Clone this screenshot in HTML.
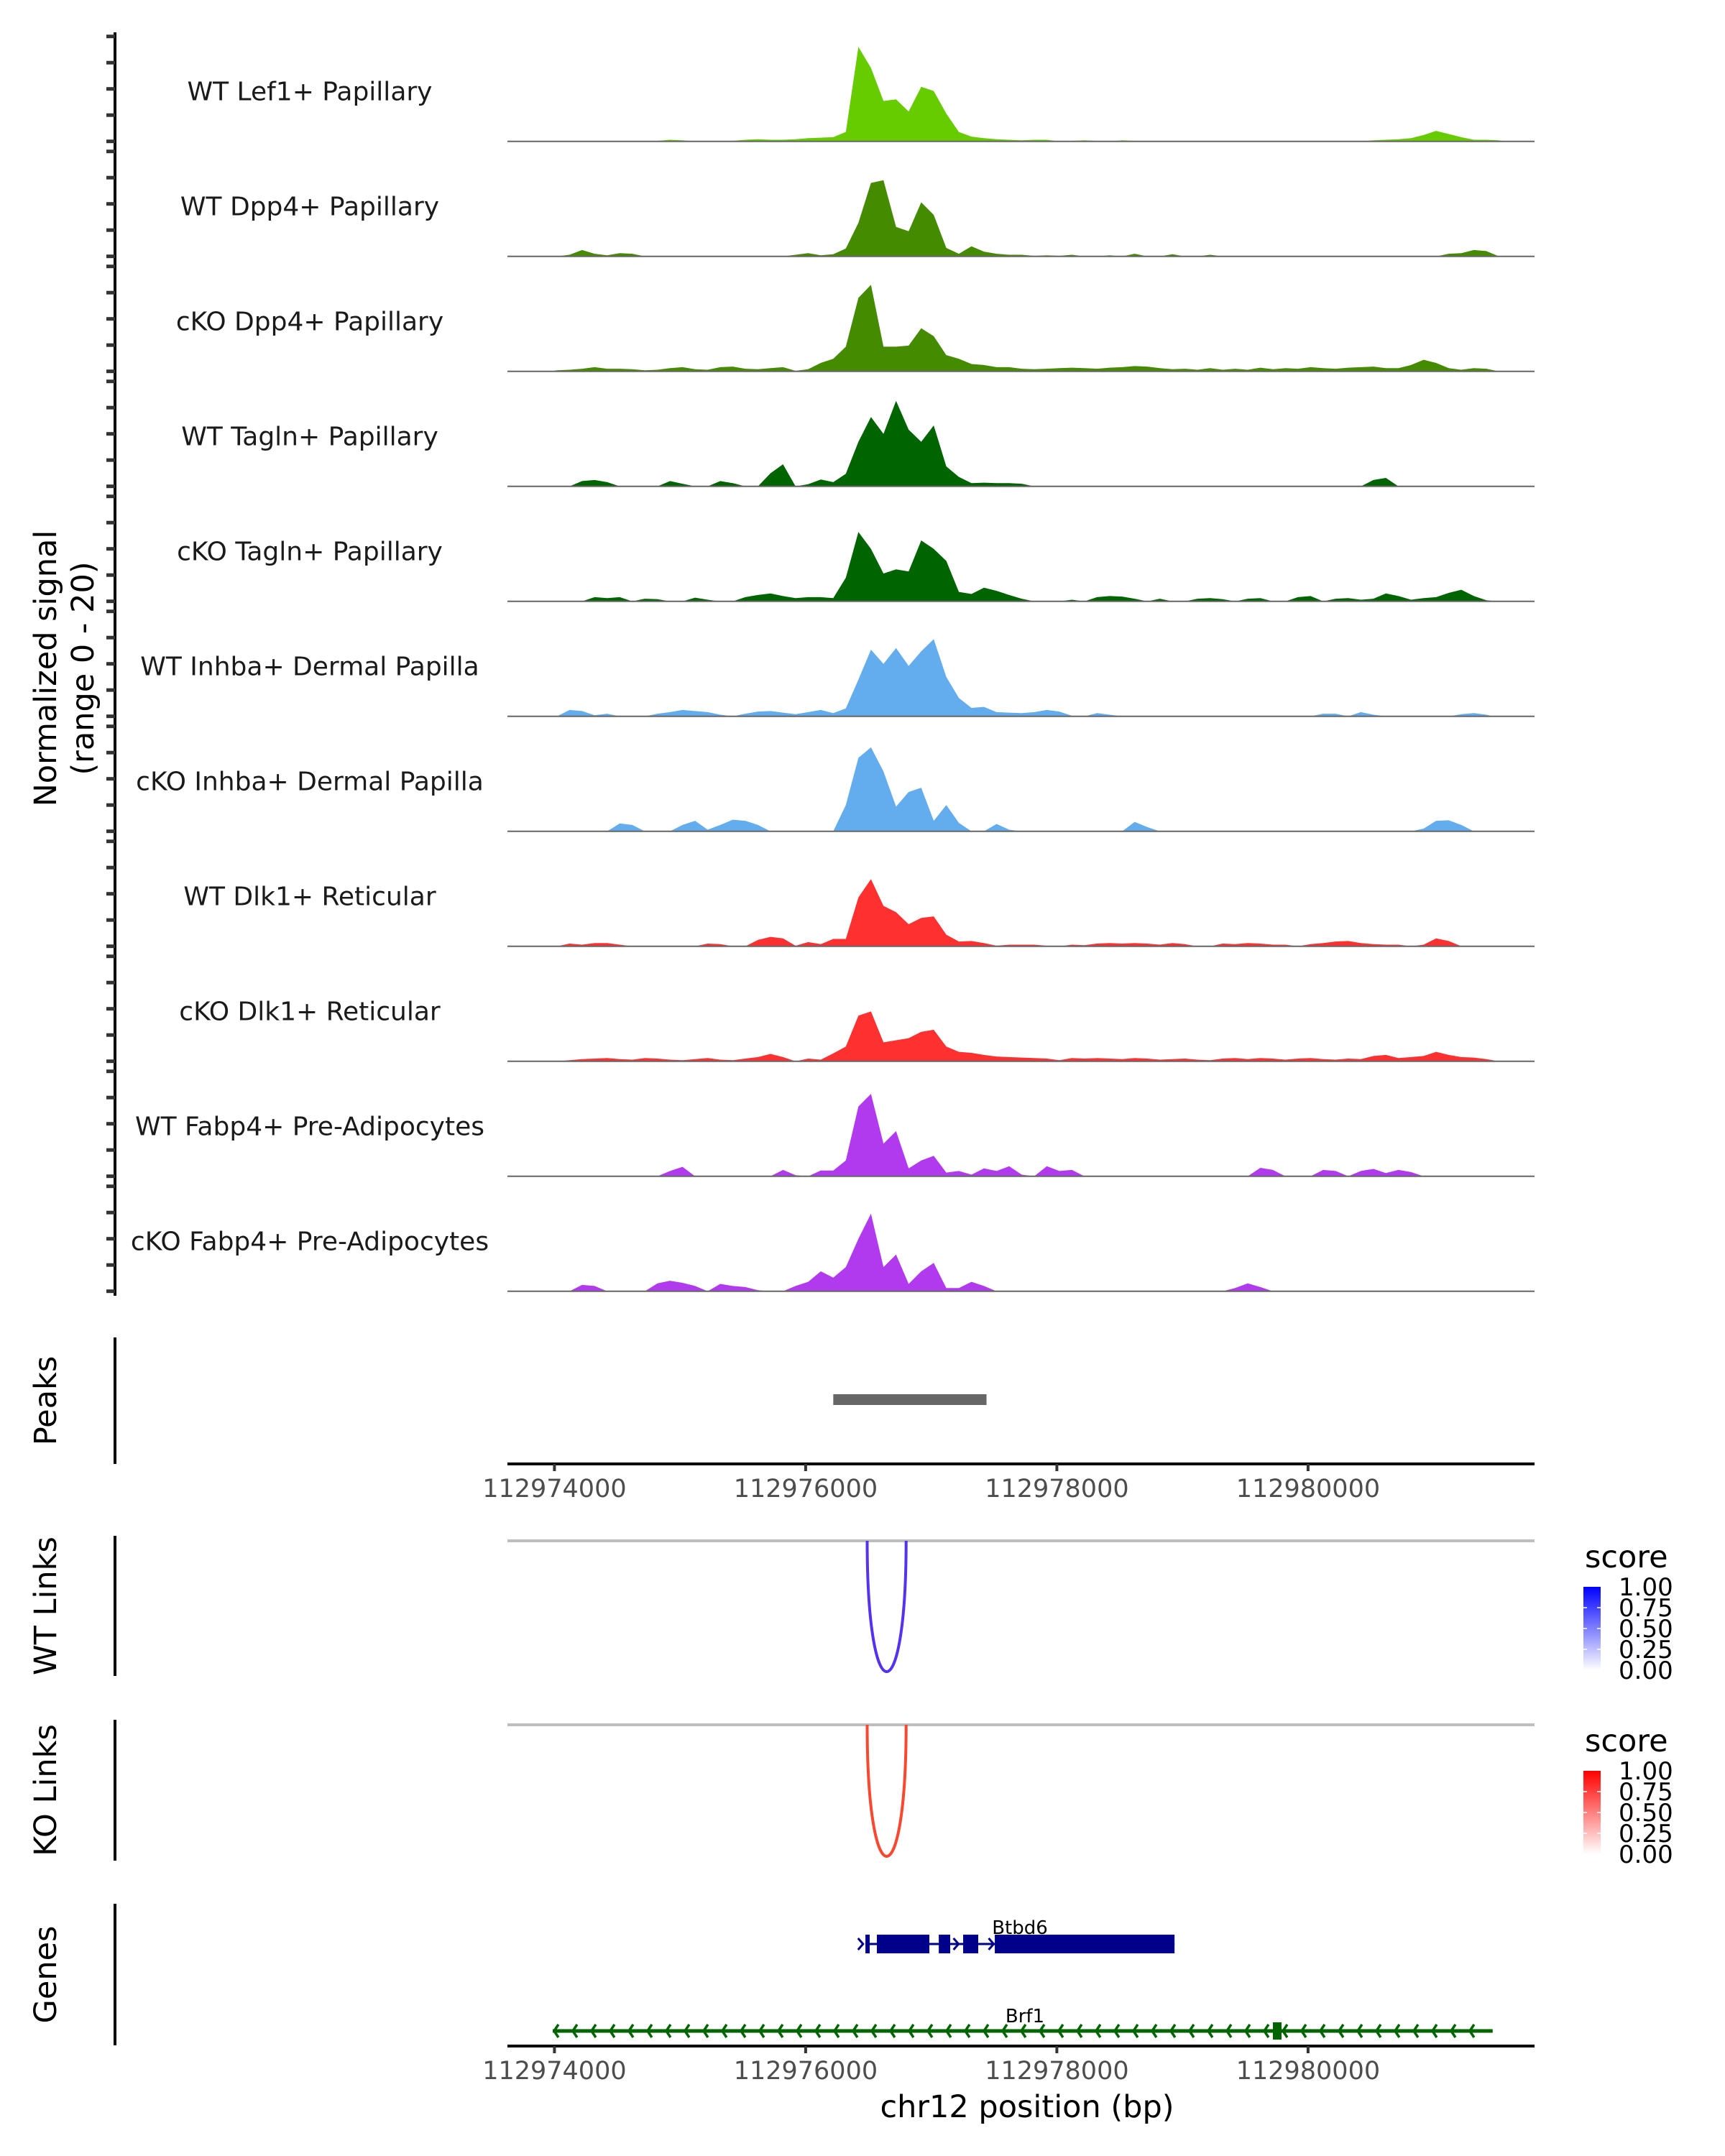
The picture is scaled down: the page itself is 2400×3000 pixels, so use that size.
<!DOCTYPE html>
<html><head><meta charset="utf-8"><style>
html,body{margin:0;padding:0;background:#fff}
svg{display:block}
text{font-family:"DejaVu Sans","Liberation Sans",sans-serif}
</style></head><body>
<svg id="chart" xmlns="http://www.w3.org/2000/svg" width="2400" height="3000" viewBox="0 0 2400 3000">
<rect width="2400" height="3000" fill="#fff"/>
<g id="tracks"></g>
<g id="lower"></g>
</svg>
<script>
// ---- data ----
const binStart = 112973970;
const binSize = 100;
const trackNames = ["WT Lef1+ Papillary","WT Dpp4+ Papillary","cKO Dpp4+ Papillary","WT Tagln+ Papillary","cKO Tagln+ Papillary","WT Inhba+ Dermal Papilla","cKO Inhba+ Dermal Papilla","WT Dlk1+ Reticular","cKO Dlk1+ Reticular","WT Fabp4+ Pre-Adipocytes","cKO Fabp4+ Pre-Adipocytes"];
const trackColors = ["#66CC00","#458B00","#458B00","#006400","#006400","#63ACEE","#63ACEE","#FF3030","#FF3030","#B23AEE","#B23AEE"];
const wtLef1 = [0,0,0,0,0,0,0,0,0.1,0.3,0.2,0,0,0,0.1,0.3,0.4,0.3,0.3,0.4,0.6,0.7,0.8,1.8,18,14,7.7,8,5.7,10.4,9.6,5.3,1.8,0.9,0.6,0.4,0.3,0.2,0.3,0.3,0,0.1,0.2,0.1,0,0.2,0.1,0,0.1,0.1,0,0.1,0,0,0.1,0,0,0.1,0,0,0.1,0,0.1,0.1,0,0.2,0.3,0.4,0.6,1.2,2,1.4,0.8,0.3,0.3,0.2];
const wtDpp4 = [0,0.3,1.2,0.5,0.2,0.6,0.5,0,0,0,0,0,0,0,0,0,0,0,0,0.3,0.6,0.2,0.4,1.5,6.4,14,14.5,5.6,4.8,10.3,7.9,1.6,0.5,1.9,0.9,0.5,0.3,0.3,0.1,0.2,0.1,0.3,0,0,0.2,0,0.5,0,0,0.4,0,0,0.3,0,0,0,0,0,0,0,0,0,0,0,0,0,0,0,0,0,0,0.5,0.6,1.2,1.0,0];
const koDpp4 = [0.2,0.3,0.5,0.8,0.5,0.5,0.4,0.2,0.3,0.6,0.8,0.4,0.3,0.8,0.9,0.5,0.4,0.6,0.8,0.1,0.4,1.6,2.4,4.7,14,16.5,4.7,4.7,4.9,8.2,6.7,3.1,2.4,1.4,1.2,0.8,0.8,0.5,0.4,0.5,0.6,0.7,0.6,0.5,0.7,0.8,1.0,0.9,0.6,0.4,0.5,0.3,0.6,0.3,0.5,0.3,0.7,0.4,0.6,0.5,0.8,0.6,0.5,0.7,0.8,0.9,0.6,0.6,1.2,2.2,1.6,0.6,0.3,0.6,0.5,0];
const wtTagln = [0,0,1.0,1.2,0.8,0,0,0,0,1.0,0.5,0,0,1.0,0.6,0,0,2.5,4.2,0,0.4,1.3,0.8,2.4,8.5,13.2,10,16.3,10.8,8.5,11.6,3.8,1.8,0.6,0.7,0.6,0.6,0.5,0,0,0,0,0,0,0,0,0,0,0,0,0,0,0,0,0,0,0,0,0,0,0,0,0,0,0,1.2,1.6,0,0,0,0,0,0,0,0,0];
const koTagln = [0,0,0,0.8,0.6,0.8,0,0.5,0.4,0,0,0.7,0.3,0,0,0.8,1.2,1.5,1.0,0.6,0.8,0.8,0.6,4.5,13.2,10,5.3,6.1,5.7,11.6,10,7.7,1.8,1.4,2.6,2,1.2,0.5,0,0,0,0.3,0,0.8,1,0.9,0.5,0,0.5,0,0,0.5,0.6,0.4,0,0.5,0.6,0,0,0.8,1.0,0,0.5,0.6,0.3,0.5,1.5,1.0,0.3,0.6,0.8,1.6,2.2,1.0,0.2,0];
const wtInhba = [0,1.2,1.0,0.2,0.5,0,0,0,0.5,0.8,1.2,1.0,0.8,0.3,0,0.5,0.9,1.0,0.7,0.4,0.8,1.2,0.6,1.5,7,12.7,10,13,9.6,12.4,14.7,7.5,3.5,1.6,1.8,0.8,0.7,0.6,0.8,1.2,0.9,0.1,0,0.6,0.3,0,0,0,0,0,0,0,0,0,0,0,0,0,0,0,0,0.5,0.5,0,0.8,0.3,0,0,0,0,0,0,0.4,0.6,0.3];
const koInhba = [0,0,0,0,0,1.5,1.2,0,0,0,1.2,2,0.3,1.2,2.2,2.0,1.2,0,0,0,0,0,0,5,14,16,11.4,4.7,7.5,8.3,2,5,1.6,0,0,1.4,0.3,0,0,0,0,0,0,0,0,0,1.8,0.8,0,0,0,0,0,0,0,0,0,0,0,0,0,0,0,0,0,0,0,0,0,0.5,2.0,2.1,1.2,0,0,0];
const wtDlk1 = [0,0.5,0.3,0.6,0.6,0.3,0,0,0,0,0,0,0.5,0.4,0,0,1.2,1.8,1.5,0.1,0.8,0.4,1.4,1.4,9.3,12.8,7.7,6.5,4.2,5.4,5.7,2.2,0.9,1.0,0.6,0.1,0.3,0.3,0.3,0.1,0,0.3,0.2,0.5,0.6,0.5,0.6,0.5,0.3,0.6,0.4,0,0,0.5,0.4,0.6,0.5,0.3,0.3,0,0.4,0.6,0.9,1.0,0.6,0.4,0.3,0.3,0,0.3,1.5,1.0,0,0,0,0];
const koDlk1 = [0,0.2,0.4,0.5,0.6,0.4,0.3,0.6,0.5,0.3,0.2,0.4,0.6,0.3,0.2,0.5,0.8,1.4,0.8,0,0.5,0.3,1.5,2.8,8.7,9.5,3.6,4,4.4,5.6,6,2.8,1.8,1.6,1.2,0.9,0.8,0.7,0.6,0.5,0.2,0.6,0.5,0.6,0.5,0.4,0.6,0.5,0.3,0.4,0.5,0.3,0.2,0.5,0.6,0.4,0.6,0.5,0.3,0.5,0.6,0.4,0.3,0.5,0.4,1.0,1.2,0.6,0.8,1.0,1.8,1.2,0.8,0.7,0.4,0];
const wtFabp4 = [0,0,0,0,0,0,0,0,0,1.0,1.8,0,0,0,0,0,0,0,1.2,0.2,0,1.1,1.1,3,13.3,15.7,6.2,8.6,1.5,3,3.9,0.7,1,0.3,1.5,1,1.9,0.3,0,1.9,1,1.2,0,0,0,0,0,0,0,0,0,0,0,0,0,0,1.6,1.2,0,0,0,1.2,1.0,0,1.0,1.4,0.6,1.2,0.8,0,0,0,0,0,0,0];
const koFabp4 = [0,0,1.2,1.0,0,0,0,0,1.5,2.0,1.6,1.0,0,1.4,1.0,0.8,0.2,0,0,1,1.8,3.8,2.6,4.6,10,14.8,4.6,7,1.4,3.8,5.4,0.6,0.6,1.8,1,0,0,0,0,0,0,0,0,0,0,0,0,0,0,0,0,0,0,0,0.6,1.5,0.8,0,0,0,0,0,0,0,0,0,0,0,0,0,0,0,0,0,0,0];
const trackData = [wtLef1,wtDpp4,koDpp4,wtTagln,koTagln,wtInhba,koInhba,wtDlk1,koDlk1,wtFabp4,koFabp4];
const xTicks = [112974000,112976000,112978000,112980000];
const xTickLabels = ["112974000","112976000","112978000","112980000"];
const peakStarts = [112976220];
const peakEnds = [112977440];
const wtLinkStart = [112976490];
const wtLinkEnd = [112976800];
const wtLinkScore = [0.75];
const koLinkStart = [112976490];
const koLinkEnd = [112976800];
const koLinkScore = [0.75];
const legendTicks = [1.00,0.75,0.50,0.25,0.00];
const legendLabels = ["1.00","0.75","0.50","0.25","0.00"];
const btbd6Exons = [[112976476,112976510],[112976567,112976985],[112977060,112977151],[112977254,112977374],[112977506,112978937]];
const btbd6Range = [112976476,112978937];
const brf1Range = [112973986,112981470];
const brf1Exons = [[112979720,112979789]];

// ---- scales ----
const X0 = 771.4, PX = 349.5/2000, G0 = 112974000;
function xs(g){ return X0 + (g - G0) * PX; }
const B1 = 196.7, TSP = 160, TH = 146;
function ys(v, k){ return B1 + TSP*k - v/20*TH; }
const PL = 706, PR = 2135;
const NS = "http://www.w3.org/2000/svg";
function mk(tag, attrs, parent, txt){
  const e = document.createElementNS(NS, tag);
  for (const a in attrs) e.setAttribute(a, attrs[a]);
  if (txt !== undefined) e.textContent = txt;
  parent.appendChild(e); return e;
}
const T = document.getElementById('tracks');
const L = document.getElementById('lower');

let ax = mk('line',{x1:160,y1:45,x2:160,y2:1803,stroke:'#000','stroke-width':4},T);


let yt = mk('text',{x:0,y:0,'font-size':43,'text-anchor':'middle',fill:'#000',transform:'translate(78,930) rotate(-90)'},T,'Normalized signal');


let yt2 = mk('text',{x:0,y:0,'font-size':43,'text-anchor':'middle',fill:'#000',transform:'translate(130,930) rotate(-90)'},T,'(range 0 - 20)');



for (let k=0;k<trackData.length;k++){
  const d = trackData[k];
  const g = mk('g',{},T);
  
  
  for (let j=0;j<5;j++){
    const tk = mk('line',{x1:148,x2:160,y1:ys(j*5,k),y2:ys(j*5,k),stroke:'#333','stroke-width':5},g);
    
    
  }
  let pts = [];
  pts.push(xs(binStart).toFixed(1)+','+ys(0,k).toFixed(1));
  for (let i=0;i<d.length;i++){
    const gx = binStart + binSize*i + binSize/2;
    pts.push(xs(gx).toFixed(1)+','+ys(d[i],k).toFixed(1));
  }
  pts.push(xs(binStart+binSize*d.length).toFixed(1)+','+ys(0,k).toFixed(1));
  const area = mk('polygon',{points:pts.join(' '),fill:trackColors[k]},g);
  
  
  const bl = mk('line',{x1:PL,x2:PR,y1:ys(0,k),y2:ys(0,k),stroke:'#666','stroke-width':2},g);
  
  
  const lb = mk('text',{x:431,y:ys(0,k)-57,'font-size':36,'text-anchor':'middle',fill:'#1a1a1a'},g,trackNames[k]);
  
  
}

function xAxis(y, name){
  const g = mk('g',{},L);
  
  
  mk('line',{x1:PL,x2:PR,y1:y,y2:y,stroke:'#000','stroke-width':4},g);
  for (let i=0;i<xTicks.length;i++){
    const x = xs(xTicks[i]);
    const t = mk('line',{x1:x,x2:x,y1:y,y2:y+10,stroke:'#333','stroke-width':4},g);
    
    
    const tl = mk('text',{x:x,y:y+46,'font-size':35,'text-anchor':'middle',fill:'#4D4D4D'},g,xTickLabels[i]);
    
    
  }
}
function sideLabel(txt, y1, y2, name){
  const ln = mk('line',{x1:160,x2:160,y1:y1,y2:y2,stroke:'#000','stroke-width':4},L);
  
  
  const t = mk('text',{x:0,y:0,'font-size':43,'text-anchor':'middle',fill:'#000',transform:'translate(78,'+((y1+y2)/2)+') rotate(-90)'},L,txt);
  
  
}

sideLabel('Peaks',1861,2037,'peaks');
for (let i=0;i<peakStarts.length;i++){
  const r = mk('rect',{x:xs(peakStarts[i]),y:1940,width:xs(peakEnds[i])-xs(peakStarts[i]),height:15,fill:'#666'},L);
  
  
}
xAxis(2037,'peaks-x-axis');

function mix(c, s){ return 'rgb('+Math.round(255+(c[0]-255)*s)+','+Math.round(255+(c[1]-255)*s)+','+Math.round(255+(c[2]-255)*s)+')'; }
function linkPanel(label, y0, ymin, starts, ends, scores, col, lineCol, name, legY, gid){
  sideLabel(label, y0-7, ymin+6, name);
  const gl = mk('line',{x1:PL,x2:PR,y1:y0,y2:y0,stroke:'#BEBEBE','stroke-width':4},L);
  
  
  for (let i=0;i<starts.length;i++){
    const a = xs(starts[i]), b = xs(ends[i]), d = (ymin-y0)/0.75;
    const p = mk('path',{d:'M'+a+','+y0+' C'+a+','+(y0+d)+' '+b+','+(y0+d)+' '+b+','+y0,fill:'none',stroke:lineCol,'stroke-width':4},L);
    
    
  }
  const lg = mk('g',{},L);
  
  
  const defs = mk('defs',{},lg);
  const gr = mk('linearGradient',{id:gid,x1:0,y1:1,x2:0,y2:0},defs);
  mk('stop',{offset:0,'stop-color':'#fff'},gr);
  mk('stop',{offset:1,'stop-color':mix(col,1)},gr);
  mk('text',{x:2205,y:legY+14,'font-size':43,fill:'#000'},lg,'score');
  const top = legY+41, bot = legY+157;
  mk('rect',{x:2203,y:top,width:24,height:bot-top,fill:'url(#'+gid+')'},lg);
  for (let i=0;i<legendTicks.length;i++){
    const yy = bot - legendTicks[i]*(bot-top);
    mk('text',{x:2252,y:yy+12,'font-size':34,fill:'#000'},lg,legendLabels[i]);
    if (i>0 && i<4){
      mk('line',{x1:2203,x2:2208,y1:yy,y2:yy,stroke:'#fff','stroke-width':1.5},lg);
      mk('line',{x1:2222,x2:2227,y1:yy,y2:yy,stroke:'#fff','stroke-width':1.5},lg);
    }
  }
}
linkPanel('WT Links',2144,2326,wtLinkStart,wtLinkEnd,wtLinkScore,[0,0,255],'#5533EE','wt-links',2167,'gradWT');
linkPanel('KO Links',2400,2583,koLinkStart,koLinkEnd,koLinkScore,[255,0,0],'#F84830','ko-links',2423,'gradKO');

sideLabel('Genes',2649,2846,'genes');
const gb = mk('g',{},L);


mk('line',{x1:xs(btbd6Range[0]),x2:xs(btbd6Range[1]),y1:2705,y2:2705,stroke:'#00008B','stroke-width':3},gb);
for (const e of btbd6Exons){
  mk('rect',{x:xs(e[0]),y:2692,width:Math.max(4,xs(e[1])-xs(e[0])),height:26,fill:'#00008B'},gb);
}
for (const gx of [112976440,112977100,112977200,112977480]){
  const x = xs(gx);
  mk('path',{d:'M'+(x-4)+',2697 L'+(x+3)+',2705 L'+(x-4)+',2713',fill:'none',stroke:'#00008B','stroke-width':3},gb);
}
mk('text',{x:1419,y:2691,'font-size':26,'text-anchor':'middle',fill:'#000'},gb,'Btbd6');

const gf = mk('g',{},L);


mk('line',{x1:xs(brf1Range[0]),x2:xs(brf1Range[1]),y1:2826,y2:2826,stroke:'#006400','stroke-width':5},gf);
for (let x = xs(brf1Range[0])+2; x < xs(brf1Range[1])-10; x += 26){
  mk('path',{d:'M'+(x+6)+',2817 L'+x+',2826 L'+(x+6)+',2835',fill:'none',stroke:'#006400','stroke-width':3.5},gf);
}
for (const e of brf1Exons){
  mk('rect',{x:xs(e[0]),y:2814,width:xs(e[1])-xs(e[0]),height:24,fill:'#006400'},gf);
}
mk('text',{x:1426,y:2814,'font-size':26,'text-anchor':'middle',fill:'#000'},gf,'Brf1');

xAxis(2847,'genomic-x-axis');
const xt = mk('text',{x:1429,y:2946,'font-size':43,'text-anchor':'middle',fill:'#000'},L,'chr12 position (bp)');


</script>
</body></html>
